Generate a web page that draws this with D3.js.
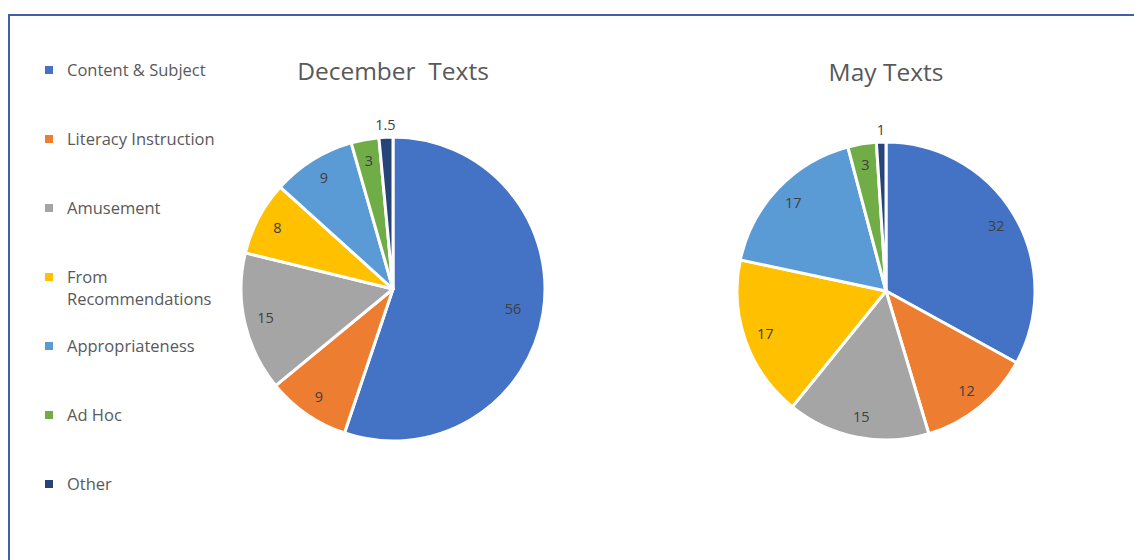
<!DOCTYPE html>
<html><head><meta charset="utf-8">
<script src="https://cdn.jsdelivr.net/npm/d3@7/dist/d3.min.js"></script>
<style>
html,body{margin:0;padding:0;background:#fff;}
svg{display:block;font-family:"Open Sans","Noto Sans",sans-serif;}
</style></head>
<body>
<svg id="c" width="1134" height="560"></svg>
<script>
const categories = ["Content & Subject","Literacy Instruction","Amusement","From Recommendations","Appropriateness","Ad Hoc","Other"];
const legendLines = [["Content & Subject"],["Literacy Instruction"],["Amusement"],["From","Recommendations"],["Appropriateness"],["Ad Hoc"],["Other"]];
const decemberValues = [56, 9, 15, 8, 9, 3, 1.5];
const mayValues = [32, 12, 15, 17, 17, 3, 1];
const chartTitles = ["December\u00A0 Texts", "May Texts"];
const colors = ["#4472C4","#ED7D31","#A5A5A5","#FFC000","#5B9BD5","#70AD47","#264478"];

const svg = d3.select("#c");
// border
svg.append("rect").attr("x",9).attr("y",15).attr("width",1140).attr("height",560)
  .attr("fill","none").attr("stroke","#3F5FA8").attr("stroke-width",2);

const color = d3.scaleOrdinal().domain(categories).range(colors);

// legend
const legY = d3.scalePoint().domain(categories).range([70,484]);
const leg = svg.append("g");
legendLines.forEach((lines,i)=>{
  const y = legY(categories[i]);
  leg.append("rect").attr("x",45).attr("y",y-4).attr("width",8).attr("height",8).attr("fill",color(categories[i]));
  const t = leg.append("text").attr("x",67).attr("y",y)
    .attr("font-size",16.5).attr("fill","#595959");
  lines.forEach((l,j)=>t.append("tspan").attr("x",67).attr("dy", j===0?"0.35em":"22px").text(l));
});

function drawPie(values, cx, cy, R, title, titleY){
  const g = svg.append("g").attr("transform",`translate(${cx},${cy})`);
  const data = categories.map((c,i)=>({cat:c, v:values[i]}));
  const pie = d3.pie().value(d=>d.v).sort(null);
  const arcs = pie(data);
  const arc = d3.arc().innerRadius(0).outerRadius(R);
  g.selectAll("path").data(arcs).join("path").attr("d",arc)
    .attr("fill",d=>color(d.data.cat)).attr("stroke","#fff").attr("stroke-width",3).attr("stroke-linejoin","round");
  const inArc = d3.arc().innerRadius(R*0.86).outerRadius(R*0.86);
  const outArc = d3.arc().innerRadius(R*1.08).outerRadius(R*1.08);
  const bigArc = d3.arc().innerRadius(R*0.8).outerRadius(R*0.8);
  g.selectAll("text.lbl").data(arcs).join("text").attr("class","lbl")
    .attr("transform",d=>{
      const small = (d.endAngle-d.startAngle) < 0.12;
      const p = small ? outArc.centroid(d) : (d.data.v>40 ? bigArc.centroid(d) : inArc.centroid(d));
      return `translate(${p[0]},${p[1]})`;
    })
    .attr("text-anchor","middle").attr("dy","0.35em")
    .attr("font-size",14.5).attr("fill","#404040")
    .text(d=>d.data.v);
  svg.append("text").attr("x",cx).attr("y",titleY).attr("text-anchor","middle")
    .attr("font-size",24.5).attr("fill","#595959").text(title);
}
drawPie(decemberValues, 393, 289, 152, chartTitles[0], 80);
drawPie(mayValues, 886, 291, 149, chartTitles[1], 81);
</script>
</body></html>
